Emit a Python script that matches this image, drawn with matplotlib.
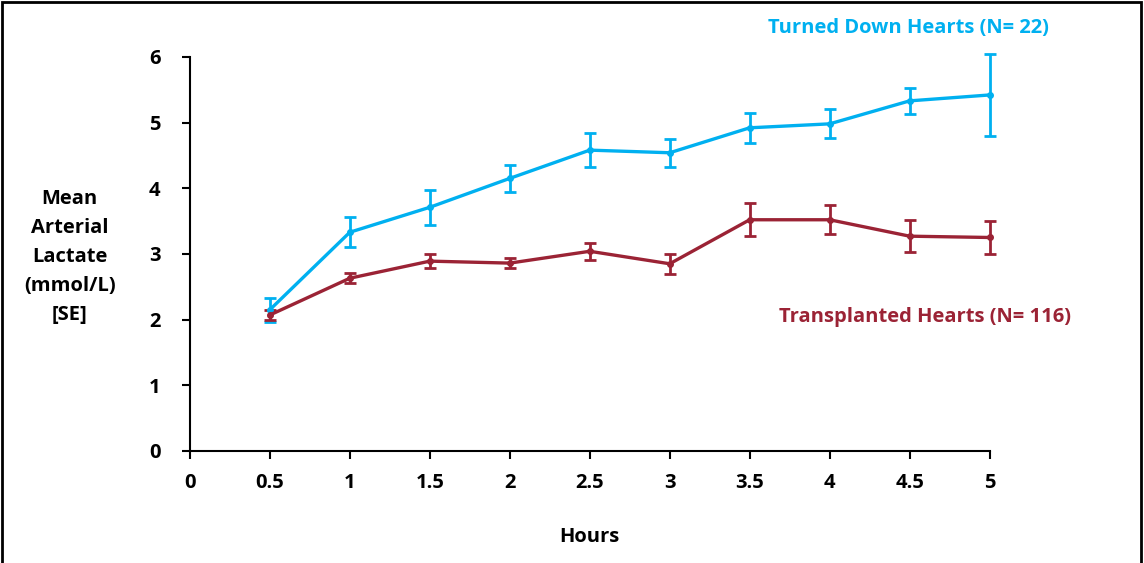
import matplotlib.pyplot as plt
from matplotlib.patches import Rectangle

plt.rcParams['font.family'] = ['Open Sans', 'DejaVu Sans']
plt.rcParams['font.weight'] = 'bold'

hours = [0.5, 1, 1.5, 2, 2.5, 3, 3.5, 4, 4.5, 5]
turned_down = [2.15, 3.33, 3.71, 4.15, 4.58, 4.54, 4.92, 4.98, 5.33, 5.42]
turned_down_se = [0.18, 0.23, 0.27, 0.21, 0.26, 0.21, 0.23, 0.22, 0.20, 0.62]
transplanted = [2.07, 2.63, 2.89, 2.86, 3.04, 2.85, 3.52, 3.52, 3.27, 3.25]
transplanted_se = [0.07, 0.08, 0.11, 0.08, 0.13, 0.15, 0.25, 0.22, 0.24, 0.25]
xticks = [0, 0.5, 1, 1.5, 2, 2.5, 3, 3.5, 4, 4.5, 5]
xlabels = ['0', '0.5', '1', '1.5', '2', '2.5', '3', '3.5', '4', '4.5', '5']

blue = '#00B0F0'
red = '#9B2335'

fig = plt.figure(figsize=(11.44, 5.63), dpi=100)
ax = fig.add_axes([0.166, 0.199, 0.699, 0.70])

for y, e, c in [(turned_down, turned_down_se, blue), (transplanted, transplanted_se, red)]:
    lines = ax.errorbar(hours, y, yerr=e, color=c, lw=2.4, marker='o', ms=4,
                        elinewidth=2, capsize=4, capthick=2)
    for art in lines.get_children():
        art.set_clip_on(False)

ax.set_xlim(0, 5)
ax.set_ylim(0, 6)
ax.set_xticks(xticks)
ax.set_xticklabels(xlabels)
ax.set_yticks(range(7))
ax.spines['top'].set_visible(False)
ax.spines['right'].set_visible(False)
for s in ['left', 'bottom']:
    ax.spines[s].set_linewidth(1.5)
ax.tick_params(axis='both', labelsize=14.5, width=1.5, length=6, direction='out')
ax.tick_params(axis='x', pad=10)
ax.tick_params(axis='y', pad=15)
for lab in ax.get_xticklabels() + ax.get_yticklabels():
    lab.set_fontweight('bold')

ax.set_xlabel('Hours', fontsize=14.5, fontweight='bold', labelpad=24)
fig.text(0.061, 0.543, 'Mean\nArterial\nLactate\n(mmol/L)\n[SE]', ha='center', va='center',
         fontsize=14.5, fontweight='bold', linespacing=1.6)

fig.text(0.794, 0.951, 'Turned Down Hearts (N= 22)', color=blue, ha='center', va='center',
         fontsize=14.5, fontweight='bold')
fig.text(0.809, 0.437, 'Transplanted Hearts (N= 116)', color=red, ha='center', va='center',
         fontsize=14.5, fontweight='bold')

fig.patches.append(Rectangle((0.002, -0.01), 0.995, 1.006, transform=fig.transFigure,
                             fill=False, edgecolor='black', lw=2))

fig.savefig('out.png', dpi=100)
